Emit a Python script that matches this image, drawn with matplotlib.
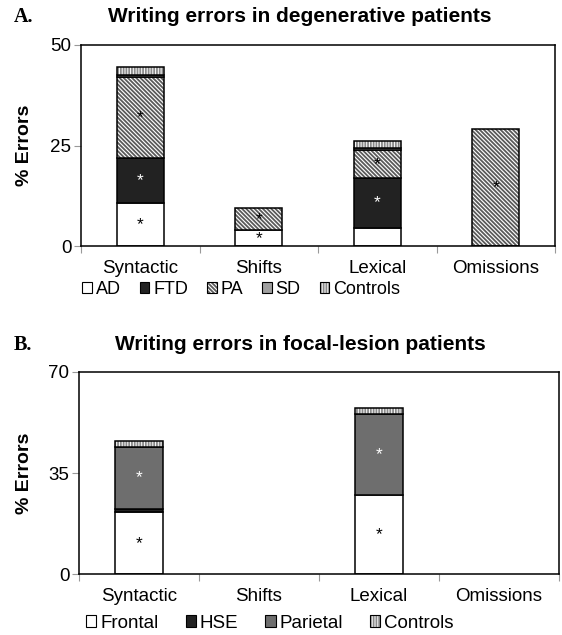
import numpy as np
import matplotlib
matplotlib.use("Agg")
import matplotlib.pyplot as plt
from matplotlib.patches import Patch

plt.rcParams['font.family'] = ['Liberation Sans', 'DejaVu Sans']
plt.rcParams['hatch.linewidth'] = 1.3

categories = ["Syntactic", "Shifts", "Lexical", "Omissions"]

# panel A: degenerative patients (% errors, stacked)
deg_groups = ["AD", "FTD", "PA", "SD", "Controls"]
deg_ad = [10.8, 4.0, 4.6, 0.0]
deg_ftd = [11.2, 0.0, 12.3, 0.0]
deg_pa = [19.9, 5.4, 6.9, 29.2]
deg_sd = [0.7, 0.0, 0.7, 0.0]
deg_controls = [1.8, 0.0, 1.5, 0.0]
deg_sig = {
    "AD": [True, True, False, False],
    "FTD": [True, False, True, False],
    "PA": [True, True, True, True],
}

# panel B: focal-lesion patients
foc_groups = ["Frontal", "HSE", "Parietal", "Controls"]
foc_frontal = [21.5, 0.0, 27.3, 0.0]
foc_hse = [1.1, 0.0, 0.0, 0.0]
foc_parietal = [21.5, 0.0, 28.2, 0.0]
foc_controls = [1.9, 0.0, 2.1, 0.0]
foc_sig = {
    "Frontal": [True, False, True, False],
    "Parietal": [True, False, True, False],
}

# fill, hatch, hatch colour, star colour
styles = {
    "AD": ("white", None, None, "black"),
    "FTD": ("#222222", None, None, "white"),
    "PA": ("white", "\\" * 8, "#5a5a5a", "black"),
    "SD": ("#a0a0a0", None, None, "black"),
    "Controls": ("white", "|" * 6, "#8a8a8a", "black"),
    "Frontal": ("white", None, None, "black"),
    "HSE": ("#222222", None, None, "white"),
    "Parietal": ("#6e6e6e", None, None, "white"),
}


def stacked(ax, groups, series, sig, ymax, yticks):
    x = np.arange(len(categories)) + 0.5
    bottom = np.zeros(len(categories))
    handles = []
    for name, vals in zip(groups, series):
        vals = np.array(vals)
        fc, hatch, hc, star = styles[name]
        keep = vals > 0
        if hatch:
            ax.bar(x[keep], vals[keep], 0.4, bottom[keep], color=fc,
                   edgecolor=hc, hatch=hatch, linewidth=0)
        else:
            ax.bar(x[keep], vals[keep], 0.4, bottom[keep], color=fc, linewidth=0)
        ax.bar(x[keep], vals[keep], 0.4, bottom[keep], fill=False,
               edgecolor="black", linewidth=1.1)
        for i, s in enumerate(sig.get(name, [False] * len(categories))):
            if s:
                ax.text(x[i], bottom[i] + vals[i] / 2, "*", color=star,
                        ha="center", va="center", fontsize=12.5)
        bottom += vals
        if hatch:
            h = (Patch(facecolor=fc, edgecolor=hc, hatch=hatch, linewidth=0),
                 Patch(fill=False, edgecolor="black", linewidth=0.8))
        else:
            h = Patch(facecolor=fc, edgecolor="black", linewidth=0.8)
        handles.append(h)

    ax.set_xlim(0, 4)
    ax.set_ylim(0, ymax)
    ax.set_yticks(yticks)
    ax.set_xticks([0, 1, 2, 3, 4], [])
    ax.set_xticks(x, categories, minor=True)
    ax.tick_params(axis="x", which="major", length=5, color="#999999")
    ax.tick_params(axis="x", which="minor", length=0, pad=10, labelsize=13.5)
    ax.tick_params(axis="y", length=5, color="#999999", pad=2, labelsize=13.5)
    for sp in ax.spines.values():
        sp.set_linewidth(1.1)
    ax.set_ylabel("% Errors", fontsize=14, fontweight="bold")
    return handles


fig = plt.figure(figsize=(5.62, 6.35), dpi=100)
axA = fig.add_axes([81 / 562, 1 - 246.3 / 635, 474 / 562, 201.6 / 635])
axB = fig.add_axes([79 / 562, 1 - 574.3 / 635, 480 / 562, 202.6 / 635])

hA = stacked(axA, deg_groups, [deg_ad, deg_ftd, deg_pa, deg_sd, deg_controls],
             deg_sig, 50, [0, 25, 50])
hB = stacked(axB, foc_groups, [foc_frontal, foc_hse, foc_parietal, foc_controls],
             foc_sig, 70, [0, 35, 70])
axA.yaxis.set_label_coords(-48 / 474, 0.5)
axB.yaxis.set_label_coords(-46 / 480, 0.5)

fig.text(300 / 562, 1 - 17 / 635, "Writing errors in degenerative patients",
         ha="center", va="center", fontsize=15, fontweight="bold")
fig.text(300 / 562, 1 - 345 / 635, "Writing errors in focal-lesion patients",
         ha="center", va="center", fontsize=15, fontweight="bold")
fig.text(14 / 562, 1 - 17 / 635, "A.", ha="left", va="center", fontsize=14.5,
         fontweight="bold", family="Liberation Serif")
fig.text(14 / 562, 1 - 345 / 635, "B.", ha="left", va="center", fontsize=14.5,
         fontweight="bold", family="Liberation Serif")

fig.legend(hA, deg_groups, loc="center left", bbox_to_anchor=(82 / 562, 1 - 289 / 635),
           ncol=5, frameon=False, fontsize=13, handlelength=0.55, handleheight=0.55,
           handletextpad=0.2, columnspacing=1.05, borderpad=0, borderaxespad=0)
fig.legend(hB, foc_groups, loc="center left", bbox_to_anchor=(86 / 562, 1 - 623 / 635),
           ncol=4, frameon=False, fontsize=13.5, handlelength=0.55, handleheight=0.55,
           handletextpad=0.2, columnspacing=1.45, borderpad=0, borderaxespad=0)

fig.savefig("out.png", dpi=100)
